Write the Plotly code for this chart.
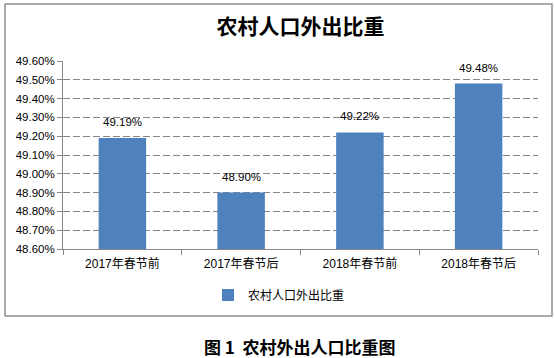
import plotly.graph_objects as go

categories = ["2017年春节前", "2017年春节后", "2018年春节前", "2018年春节后"]
values = [49.19, 48.90, 49.22, 49.48]
value_labels = ["49.19%", "48.90%", "49.22%", "49.48%"]
series_name = "农村人口外出比重"
title_text = "农村人口外出比重"
caption_text = "图 1  农村外出人口比重图"

W, H = 555, 358
ml, mr, mt, mb = 63, 17, 61, 109
pw, ph = W - ml - mr, H - mt - mb

def px_x(x):
    return (x - ml) / pw

def px_y(y):
    return (H - mb - y) / ph

fig = go.Figure()
fig.add_trace(go.Bar(
    x=categories, y=values, name=series_name,
    marker=dict(color="#4F81BD", line=dict(width=0)),
    showlegend=True,
))

annotations = []
for c, v, t in zip(categories, values, value_labels):
    annotations.append(dict(x=c, y=v, xref="x", yref="y", text=t, showarrow=False,
                            yanchor="bottom", yshift=8,
                            font=dict(family="Liberation Sans, Arial", size=11.5, color="#000")))
annotations.append(dict(text="<b>" + caption_text + "</b>", xref="paper", yref="paper",
                        x=px_x(300), y=px_y(346), xanchor="center", yanchor="middle",
                        showarrow=False,
                        font=dict(family="Noto Sans CJK SC", size=17, color="#000")))

fig.update_layout(
    width=W, height=H,
    margin=dict(l=ml, r=mr, t=mt, b=mb),
    paper_bgcolor="white", plot_bgcolor="white",
    bargap=0.6,
    font=dict(family="Liberation Sans, Arial, Noto Sans CJK SC", size=11, color="#000"),
    title=dict(text="<b>" + title_text + "</b>", x=0.5, xanchor="center",
               xref="paper", y=1 - 27 / H, yanchor="middle",
               font=dict(family="Noto Sans CJK SC", size=21, color="#000")),
    showlegend=True,
    legend=dict(orientation="h", x=px_x(279), xanchor="center", y=px_y(295), yanchor="middle",
                font=dict(family="Noto Sans CJK SC, Liberation Sans", size=12, color="#000"),
                itemwidth=30, bgcolor="rgba(0,0,0,0)"),
    xaxis=dict(
        type="category", range=[-0.5, 3.5],
        showline=True, linecolor="#888888", linewidth=1,
        ticks="outside", tickson="boundaries", ticklen=5, tickcolor="#888888",
        ticklabelstandoff=4,
        tickfont=dict(family="Liberation Sans, Noto Sans CJK SC", size=12, color="#000"),
        showgrid=False,
    ),
    yaxis=dict(
        range=[48.6, 49.6], dtick=0.1, tick0=48.6,
        tickformat=".2f", ticksuffix="%",
        showline=True, linecolor="#888888", linewidth=1,
        ticks="outside", ticklen=5, tickcolor="#888888",
        showgrid=True, gridcolor="#868686", griddash="7px,3px", gridwidth=1,
        zeroline=False,
        tickfont=dict(family="Liberation Sans, Arial", size=11.5, color="#000"),
    ),
    shapes=[dict(type="rect", xref="paper", yref="paper",
                 x0=px_x(5), x1=px_x(552), y0=px_y(316), y1=px_y(4),
                 line=dict(color="#909090", width=1.5), fillcolor="rgba(0,0,0,0)",
                 layer="below")],
    annotations=annotations,
)

fig.write_html("out.html", config={"displayModeBar": False},
               post_script="document.body.style.margin='0';document.body.style.overflow='hidden';")
